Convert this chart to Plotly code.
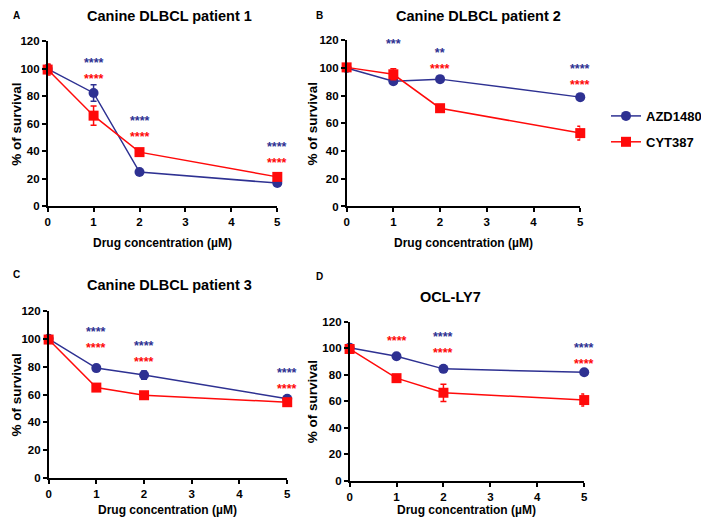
import plotly.graph_objects as go

OFF = 8                     # page body margin in the browser
W, H = 709 - OFF, 530 - OFF
BLUE = "#2E3192"
RED = "#FF0A0A"

x_conc = [0, 1, 2, 5]
x_ticks = [0, 1, 2, 3, 4, 5]
y_ticks = [0, 20, 40, 60, 80, 100, 120]

titles = ["Canine DLBCL patient 1", "Canine DLBCL patient 2", "Canine DLBCL patient 3", "OCL-LY7"]
panel_letters = ["A", "B", "C", "D"]

azd = [
    [100, 82.5, 25, 17],
    [100, 90.5, 92, 79],
    [100, 79, 74, 57],
    [100.5, 94, 84.5, 82],
]
azd_err = [
    [3, 6, 1.5, 2],
    [2, 2, 1.5, 1.5],
    [2, 1.5, 3, 1.5],
    [2, 1.5, 1.5, 1.5],
]
cyt = [
    [99.5, 66, 39.5, 21.5],
    [100.5, 95.5, 71, 53],
    [99.5, 65, 59.5, 54.5],
    [99.5, 77.5, 66.5, 61],
]
cyt_err = [
    [4, 7, 2, 2],
    [2, 4, 2, 5],
    [2, 1.5, 2, 1.5],
    [3, 2, 6.5, 4.5],
]

# significance marks per panel & concentration:
# (panel, x, AZD1480 stars, AZD1480 y, CYT387 stars, CYT387 y)
stars = [
    (0, 1, "****", 104.5, "****", 97),
    (0, 2, "****", 62, "****", 55),
    (0, 5, "****", 43, "****", 36),
    (1, 1, "***", 119.5, "", None),
    (1, 2, "**", 112.5, "****", 102.5),
    (1, 5, "****", 101.5, "****", 90.5),
    (2, 1, "****", 105, "****", 97),
    (2, 2, "****", 95, "****", 88),
    (2, 5, "****", 75.5, "****", 68.5),
    (3, 1, "", None, "****", 108),
    (3, 2, "****", 109.5, "****", 100),
    (3, 5, "****", 101.5, "****", 91),
]


def xp(px):
    return max(0.0, (px - OFF) / W)


def yp(py):
    return 1 - (py - OFF) / H


# window-pixel boxes of plot areas: (x0, x1, ytop, ybottom)
boxes = [
    (45, 277, 36, 205),
    (347, 583, 35, 205),
    (46, 287, 312, 483),
    (350, 587, 323, 486),
]
title_pos = [(168, 10), (480, 10), (168, 285), (452, 298)]
letter_pos = [(8, 10), (314, 10), (8, 275), (314, 277)]
xtitle_y = [242, 242, 516, 516]
ytitle_x = [14, 312, 14, 312]

FONT = "Liberation Sans, Arial, sans-serif"

fig = go.Figure()
layout = dict(
    width=W, height=H,
    margin=dict(l=0, r=0, t=0, b=0),
    paper_bgcolor="white", plot_bgcolor="white",
    font=dict(family=FONT, color="black"),
    showlegend=True,
    legend=dict(x=xp(609), y=yp(97), xanchor="left", yanchor="top",
                font=dict(size=13, family=FONT, color="black", weight="bold"),
                bgcolor="rgba(0,0,0,0)", tracegroupgap=6, itemwidth=30),
)
annotations = []

for i in range(4):
    x0, x1, yt, yb = boxes[i]
    xa = "xaxis" if i == 0 else f"xaxis{i+1}"
    ya = "yaxis" if i == 0 else f"yaxis{i+1}"
    xr = "x" if i == 0 else f"x{i+1}"
    yr = "y" if i == 0 else f"y{i+1}"
    common = dict(showgrid=False, zeroline=False, showline=True, linecolor="black", linewidth=1.5,
                  ticks="outside", ticklen=4, tickwidth=1.5, tickcolor="black",
                  tickfont=dict(size=11.5, family=FONT, color="black", weight="bold"))
    layout[xa] = dict(domain=[xp(x0), xp(x1)], anchor=yr, range=[0, 5], tickvals=x_ticks,
                      **common)
    layout[ya] = dict(domain=[yp(yb), yp(yt)], anchor=xr, range=[0, 120], tickvals=y_ticks,
                      **common)

    fig.add_trace(go.Scatter(
        x=x_conc, y=azd[i], xaxis=xr, yaxis=yr, mode="lines+markers", name="AZD1480",
        line=dict(color=BLUE, width=1.5), marker=dict(symbol="circle", size=10, color=BLUE),
        error_y=dict(type="data", array=azd_err[i], color=BLUE, thickness=1.5, width=3),
        cliponaxis=False, showlegend=(i == 0), legendgroup="azd"))
    fig.add_trace(go.Scatter(
        x=x_conc, y=cyt[i], xaxis=xr, yaxis=yr, mode="lines+markers", name="CYT387",
        line=dict(color=RED, width=1.5), marker=dict(symbol="square", size=10, color=RED),
        error_y=dict(type="data", array=cyt_err[i], color=RED, thickness=1.5, width=3),
        cliponaxis=False, showlegend=(i == 0), legendgroup="cyt"))

    tx, ty = title_pos[i]
    annotations.append(dict(text=titles[i], x=xp(tx), y=yp(ty), xref="paper", yref="paper",
                            showarrow=False, xanchor="center", yanchor="middle",
                            font=dict(size=14.5, family=FONT, color="black", weight="bold")))
    lx, ly = letter_pos[i]
    annotations.append(dict(text=panel_letters[i], x=xp(lx), y=yp(ly), xref="paper", yref="paper",
                            showarrow=False, xanchor="left", yanchor="middle",
                            font=dict(size=10, family=FONT, color="black", weight="bold")))
    annotations.append(dict(text="Drug concentration (µM)", x=xp((x0 + x1) / 2), y=yp(xtitle_y[i]),
                            xref="paper", yref="paper", showarrow=False, xanchor="center", yanchor="middle",
                            font=dict(size=12, family=FONT, color="black", weight="bold")))
    annotations.append(dict(text="% of survival", x=xp(ytitle_x[i]), y=yp((yt + yb) / 2),
                            xref="paper", yref="paper", showarrow=False, textangle=-90,
                            xanchor="center", yanchor="middle",
                            font=dict(size=13.5, family=FONT, color="black", weight="bold")))

for (p, sx, s_azd, y_azd, s_cyt, y_cyt) in stars:
    xr = "x" if p == 0 else f"x{p+1}"
    yr = "y" if p == 0 else f"y{p+1}"
    lines, ys = [], []
    if s_azd:
        lines.append(f'<span style="color:{BLUE}">{s_azd}</span>')
        ys.append(y_azd)
    if s_cyt:
        lines.append(f'<span style="color:{RED}">{s_cyt}</span>')
        ys.append(y_cyt)
    annotations.append(dict(text="<br>".join(lines), x=sx, y=sum(ys) / len(ys), xref=xr, yref=yr,
                            showarrow=False, xanchor="center", yanchor="middle", yshift=-3,
                            align="center",
                            font=dict(size=12.5, family=FONT, color=BLUE, weight="bold")))

layout["annotations"] = annotations
fig.update_layout(**layout)
fig.write_html("out.html")
